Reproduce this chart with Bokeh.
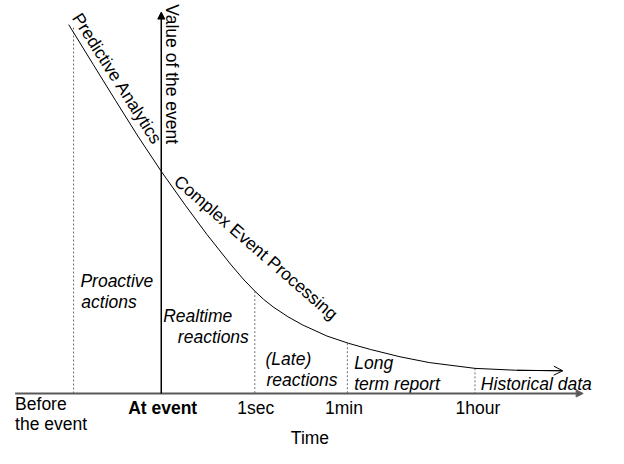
import math
from bokeh.plotting import figure
from bokeh.models import Range1d, Arrow, NormalHead, OpenHead
from bokeh.core.properties import value
from bokeh.embed import file_html
from bokeh.resources import INLINE

# ---- data (diagram units of the 624x464 reference, y grows downward) ----
curve_x = [70, 95, 118, 141, 165, 190, 212, 236, 250, 261, 270, 280, 295, 310, 335, 357, 380, 410, 440, 487, 530, 577]
curve_y = [25, 66, 103.5, 140.5, 177, 212.5, 242.5, 273, 289.5, 301, 309.5, 317.5, 327.5, 336, 347.5, 355, 361.5, 369, 375, 381, 383, 383.5]

time_axis_y = 407
time_axis_x = [15, 598]
value_axis_x = 165
value_axis_y = [407, 12]

divider_x = [75, 261, 356, 487]
divider_top = [28, 301, 355, 381]

italic_text = ["Proactive", "actions", "Realtime", "reactions", "(Late)", "reactions",
               "Long", "term report", "Historical data"]
italic_x = [82, 83, 167, 182, 272, 273, 363, 363, 493]
italic_y = [297, 318, 333, 354, 377, 399, 381, 403, 403]

tick_text = ["Before", "the event", "1sec", "1min", "1hour", "Time"]
tick_x = [15, 15, 243, 333, 467, 298]
tick_y = [424, 445, 428, 428, 428, 459]

bold_text = ["At event"]
bold_x = [131]
bold_y = [428]

rot_text = ["Predictive Analytics", "Complex Event Processing", "Value of the event"]
rot_x = [73, 177, 170]
rot_y = [18, 189, 4]
rot_deg = [-57.5, -41, -90]

FONT = value("Liberation Sans")
FS = "17.5px"
LIFT = 6  # baseline correction in text frame (diagram units)

p = figure(width=608, height=448, output_backend="svg", toolbar_location=None,
           x_range=Range1d(0, 624), y_range=Range1d(464, 0),
           min_border=0, outline_line_color=None)
p.axis.visible = False
p.grid.visible = False
p.background_fill_color = "white"
p.border_fill_color = "white"

# dotted dividers
p.segment(x0=divider_x, y0=divider_top, x1=divider_x, y1=[time_axis_y] * len(divider_x),
          line_color="#6f6f6f", line_width=1, line_dash="2 2")

# value curve
p.line(curve_x, curve_y, line_color="black", line_width=1)
p.add_layout(Arrow(end=OpenHead(size=9, line_width=1, line_color="black"),
                   x_start=curve_x[-2], y_start=curve_y[-2], x_end=curve_x[-1], y_end=curve_y[-1],
                   line_color="black", line_width=1))

# axes
p.add_layout(Arrow(end=NormalHead(size=7, fill_color="#595959", line_color="#595959"),
                   x_start=time_axis_x[0], y_start=time_axis_y, x_end=time_axis_x[1], y_end=time_axis_y,
                   line_color="#595959", line_width=2))
p.add_layout(Arrow(end=NormalHead(size=7, fill_color="black", line_color="black"),
                   x_start=value_axis_x, y_start=value_axis_y[0], x_end=value_axis_x, y_end=value_axis_y[1],
                   line_color="black", line_width=1.5))

# texts
common = dict(text_font=FONT, text_font_size=FS, text_color="black",
              text_align="left", text_baseline="alphabetic")
p.text(x=italic_x, y=[v - LIFT for v in italic_y], text=italic_text,
       text_font_style="italic", **common)
p.text(x=tick_x, y=[v - LIFT for v in tick_y], text=tick_text, **common)
p.text(x=bold_x, y=[v - LIFT for v in bold_y], text=bold_text,
       text_font_style="bold", **common)

rad = [math.radians(a) for a in rot_deg]
rx = [x + LIFT * math.sin(-a) for x, a in zip(rot_x, rad)]
ry = [y - LIFT * math.cos(-a) for y, a in zip(rot_y, rad)]
p.text(x=rx, y=ry, text=rot_text, angle=rad, **common)

open("out.html", "w").write(file_html(p, INLINE))
